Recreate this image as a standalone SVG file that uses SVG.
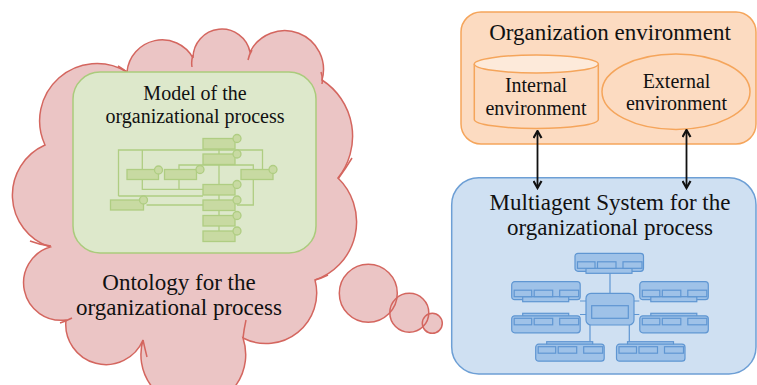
<svg xmlns="http://www.w3.org/2000/svg" width="757" height="385" viewBox="0 0 757 385">
<defs>
<style>
.txt{font-family:"Liberation Serif","Times New Roman",serif;fill:#111;text-anchor:middle}
.big{font-size:23px}
.mid{font-size:20px}
.cloud{fill:#EBC5C5;stroke:#D4665F;stroke-width:1.5}
.tick{fill:none;stroke:#D4665F;stroke-width:1.5}
.gline{fill:none;stroke:#AFCD82;stroke-width:1.3}
.gbox{fill:#C8DAA2;stroke:#AFCD82;stroke-width:1.3}
.bbox{fill:#9FC2E8;stroke:#5F96D2;stroke-width:1.2}
.bline{fill:none;stroke:#5F96D2;stroke-width:1.2}
.conn{fill:none;stroke:#111;stroke-width:1.8}
</style>
<marker id="arr" viewBox="0 0 10 10" refX="8.5" refY="5" markerWidth="10" markerHeight="10" markerUnits="userSpaceOnUse" orient="auto-start-reverse">
<path d="M1.5,1 L8.5,5 L1.5,9" fill="none" stroke="#111" stroke-width="2.2"/>
</marker>
<g id="tblUp">
<rect x="0" y="0" width="68.5" height="18" rx="3" class="bbox"/>
<rect x="11" y="15" width="46" height="5" class="bbox"/>
<rect x="2.5" y="8.5" width="17.5" height="6.5" class="bbox"/>
<rect x="22.5" y="8.5" width="18.5" height="6.5" class="bbox"/>
<rect x="48" y="8.5" width="19" height="6.5" class="bbox"/>
</g>
<g id="tblDn">
<rect x="11" y="0" width="46" height="5" class="bbox"/>
<rect x="0" y="2.5" width="68.5" height="17" rx="3" class="bbox"/>
<rect x="2.5" y="5" width="17.5" height="6.5" class="bbox"/>
<rect x="22.5" y="5" width="18.5" height="6.5" class="bbox"/>
<rect x="48" y="5" width="19" height="6.5" class="bbox"/>
</g>
</defs>

<g id="ontology">
<path class="cloud" d="M50,247 A54.7,54.7 0 0 1 45,145 A57.3,57.3 0 0 1 127,72 A35.3,35.3 0 0 1 193,58 A28.8,28.8 0 0 1 250,52 A38.8,38.8 0 0 1 322,80 A67,67 0 0 1 338,178 A61.3,61.3 0 0 1 315,280 A50.6,50.6 0 0 1 243,338 A52.4,52.4 0 1 1 143,340 A40.2,40.2 0 0 1 66,320 A37.5,37.5 0 0 1 50,247 Z"/>
<path class="tick" d="M30,241 Q40,245 51,246 M118,66 Q123,69 128,73 M193,55 Q191,61 192,67 M252,50 Q249,55 248,60 M321,72 Q323,78 322,84 M352,158 Q346,168 338,179 M315,280 Q322,278 328,275 M243,338 Q244,329 246,320 M143,340 Q145,349 147,357 M60,323 Q66,321 72,318"/>
<text class="txt big" x="179" y="290">Ontology for the</text>
<text class="txt big" x="179" y="315">organizational process</text>
</g>

<g id="bubbles">
<circle cx="368.3" cy="293.3" r="29" fill="#EBC5C5"/>
<circle cx="409.3" cy="312.7" r="19.5" fill="#EBC5C5"/>
<circle cx="432.3" cy="323.3" r="10" fill="#EBC5C5"/>
<circle cx="368.3" cy="293.3" r="29" class="tick"/>
<circle cx="409.3" cy="312.7" r="19.5" class="tick"/>
<circle cx="432.3" cy="323.3" r="10" class="tick"/>
</g>

<g id="model">
<rect x="73" y="72" width="243" height="181" rx="27" fill="#DDE8CB" stroke="#AACB7C" stroke-width="1.5"/>
<text class="txt mid" x="195" y="100">Model of the</text>
<text class="txt mid" x="195" y="123">organizational process</text>
<path class="gline" d="M118.5,196 V150 H262.5 V169.5 M118.5,196 H203 M146.5,205 H203 M142.3,150 V189.3 H203 M179,189.3 V165 H253.3 V205 H237 M219,149 V231"/>
<rect class="gbox" x="203" y="138.5" width="32" height="10.5"/>
<rect class="gbox" x="203" y="154" width="32" height="10.5"/>
<rect class="gbox" x="203" y="184.5" width="32" height="10.5"/>
<rect class="gbox" x="203" y="200" width="32" height="10.5"/>
<rect class="gbox" x="203" y="215.5" width="32" height="10.5"/>
<rect class="gbox" x="203" y="231" width="32" height="10.5"/>
<rect class="gbox" x="127" y="169.5" width="31.5" height="10"/>
<rect class="gbox" x="164.5" y="169.5" width="32" height="10"/>
<rect class="gbox" x="241" y="169.5" width="32" height="10"/>
<rect class="gbox" x="110.5" y="200" width="33" height="10"/>
<circle class="gbox" cx="237" cy="138.5" r="4"/>
<circle class="gbox" cx="237" cy="154" r="4"/>
<circle class="gbox" cx="237" cy="184.5" r="4"/>
<circle class="gbox" cx="237" cy="200" r="4"/>
<circle class="gbox" cx="237" cy="215.5" r="4"/>
<circle class="gbox" cx="237" cy="231" r="4"/>
<circle class="gbox" cx="158.5" cy="170" r="4"/>
<circle class="gbox" cx="200" cy="169.5" r="4"/>
<circle class="gbox" cx="273" cy="169.5" r="4"/>
<circle class="gbox" cx="143.5" cy="200" r="4"/>
</g>

<g id="org-env">
<rect x="461" y="12" width="295" height="132" rx="20" fill="#FCDBC1" stroke="#F5A55B" stroke-width="1.5"/>
<text class="txt big" x="610" y="40">Organization environment</text>
</g>

<g id="internal-env">
<path d="M474.3,64 V119.5 A62,9 0 0 0 598.3,119.5 V64" fill="#FCDBC1" stroke="#F5A55B" stroke-width="1.5"/>
<ellipse cx="536.3" cy="64" rx="62" ry="9" fill="#FDEADA" stroke="#F5A55B" stroke-width="1.5"/>
<text class="txt mid" x="536" y="92">Internal</text>
<text class="txt mid" x="536" y="115">environment</text>
</g>

<g id="external-env">
<ellipse cx="676" cy="91.7" rx="74" ry="37.7" fill="#FCDBC1" stroke="#F5A55B" stroke-width="1.5"/>
<text class="txt mid" x="676.5" y="87.5">External</text>
<text class="txt mid" x="676.5" y="110">environment</text>
</g>

<g id="mas">
<rect x="451.7" y="177.7" width="304.3" height="196.3" rx="27" fill="#CFE0F2" stroke="#6D9FD5" stroke-width="1.5"/>
<text class="txt big" x="610" y="210">Multiagent System for the</text>
<text class="txt big" x="610" y="235">organizational process</text>
<path class="bline" d="M610,273 V293.3 M580,301 H586 M634,301 H639.3 M580,314.5 H586 M634,314.5 H639.3 M590,325 V341.7 M629.3,325 V341.7"/>
<use href="#tblUp" x="575" y="253.3"/>
<use href="#tblUp" x="511.7" y="281.7"/>
<use href="#tblUp" x="639.8" y="281.7"/>
<use href="#tblDn" x="511.7" y="313.3"/>
<use href="#tblDn" x="639.8" y="313.3"/>
<use href="#tblDn" x="535.7" y="341.7"/>
<use href="#tblDn" x="616.5" y="341.7"/>
<rect x="586" y="293.3" width="48" height="31.7" rx="5" class="bbox"/>
<rect x="591.7" y="305.7" width="36.6" height="12.6" class="bbox"/>
</g>

<g id="connectors">
<line class="conn" x1="537.5" y1="131" x2="537.5" y2="188" marker-start="url(#arr)" marker-end="url(#arr)"/>
<line class="conn" x1="686.5" y1="130" x2="686.5" y2="188" marker-start="url(#arr)" marker-end="url(#arr)"/>
</g>
</svg>
